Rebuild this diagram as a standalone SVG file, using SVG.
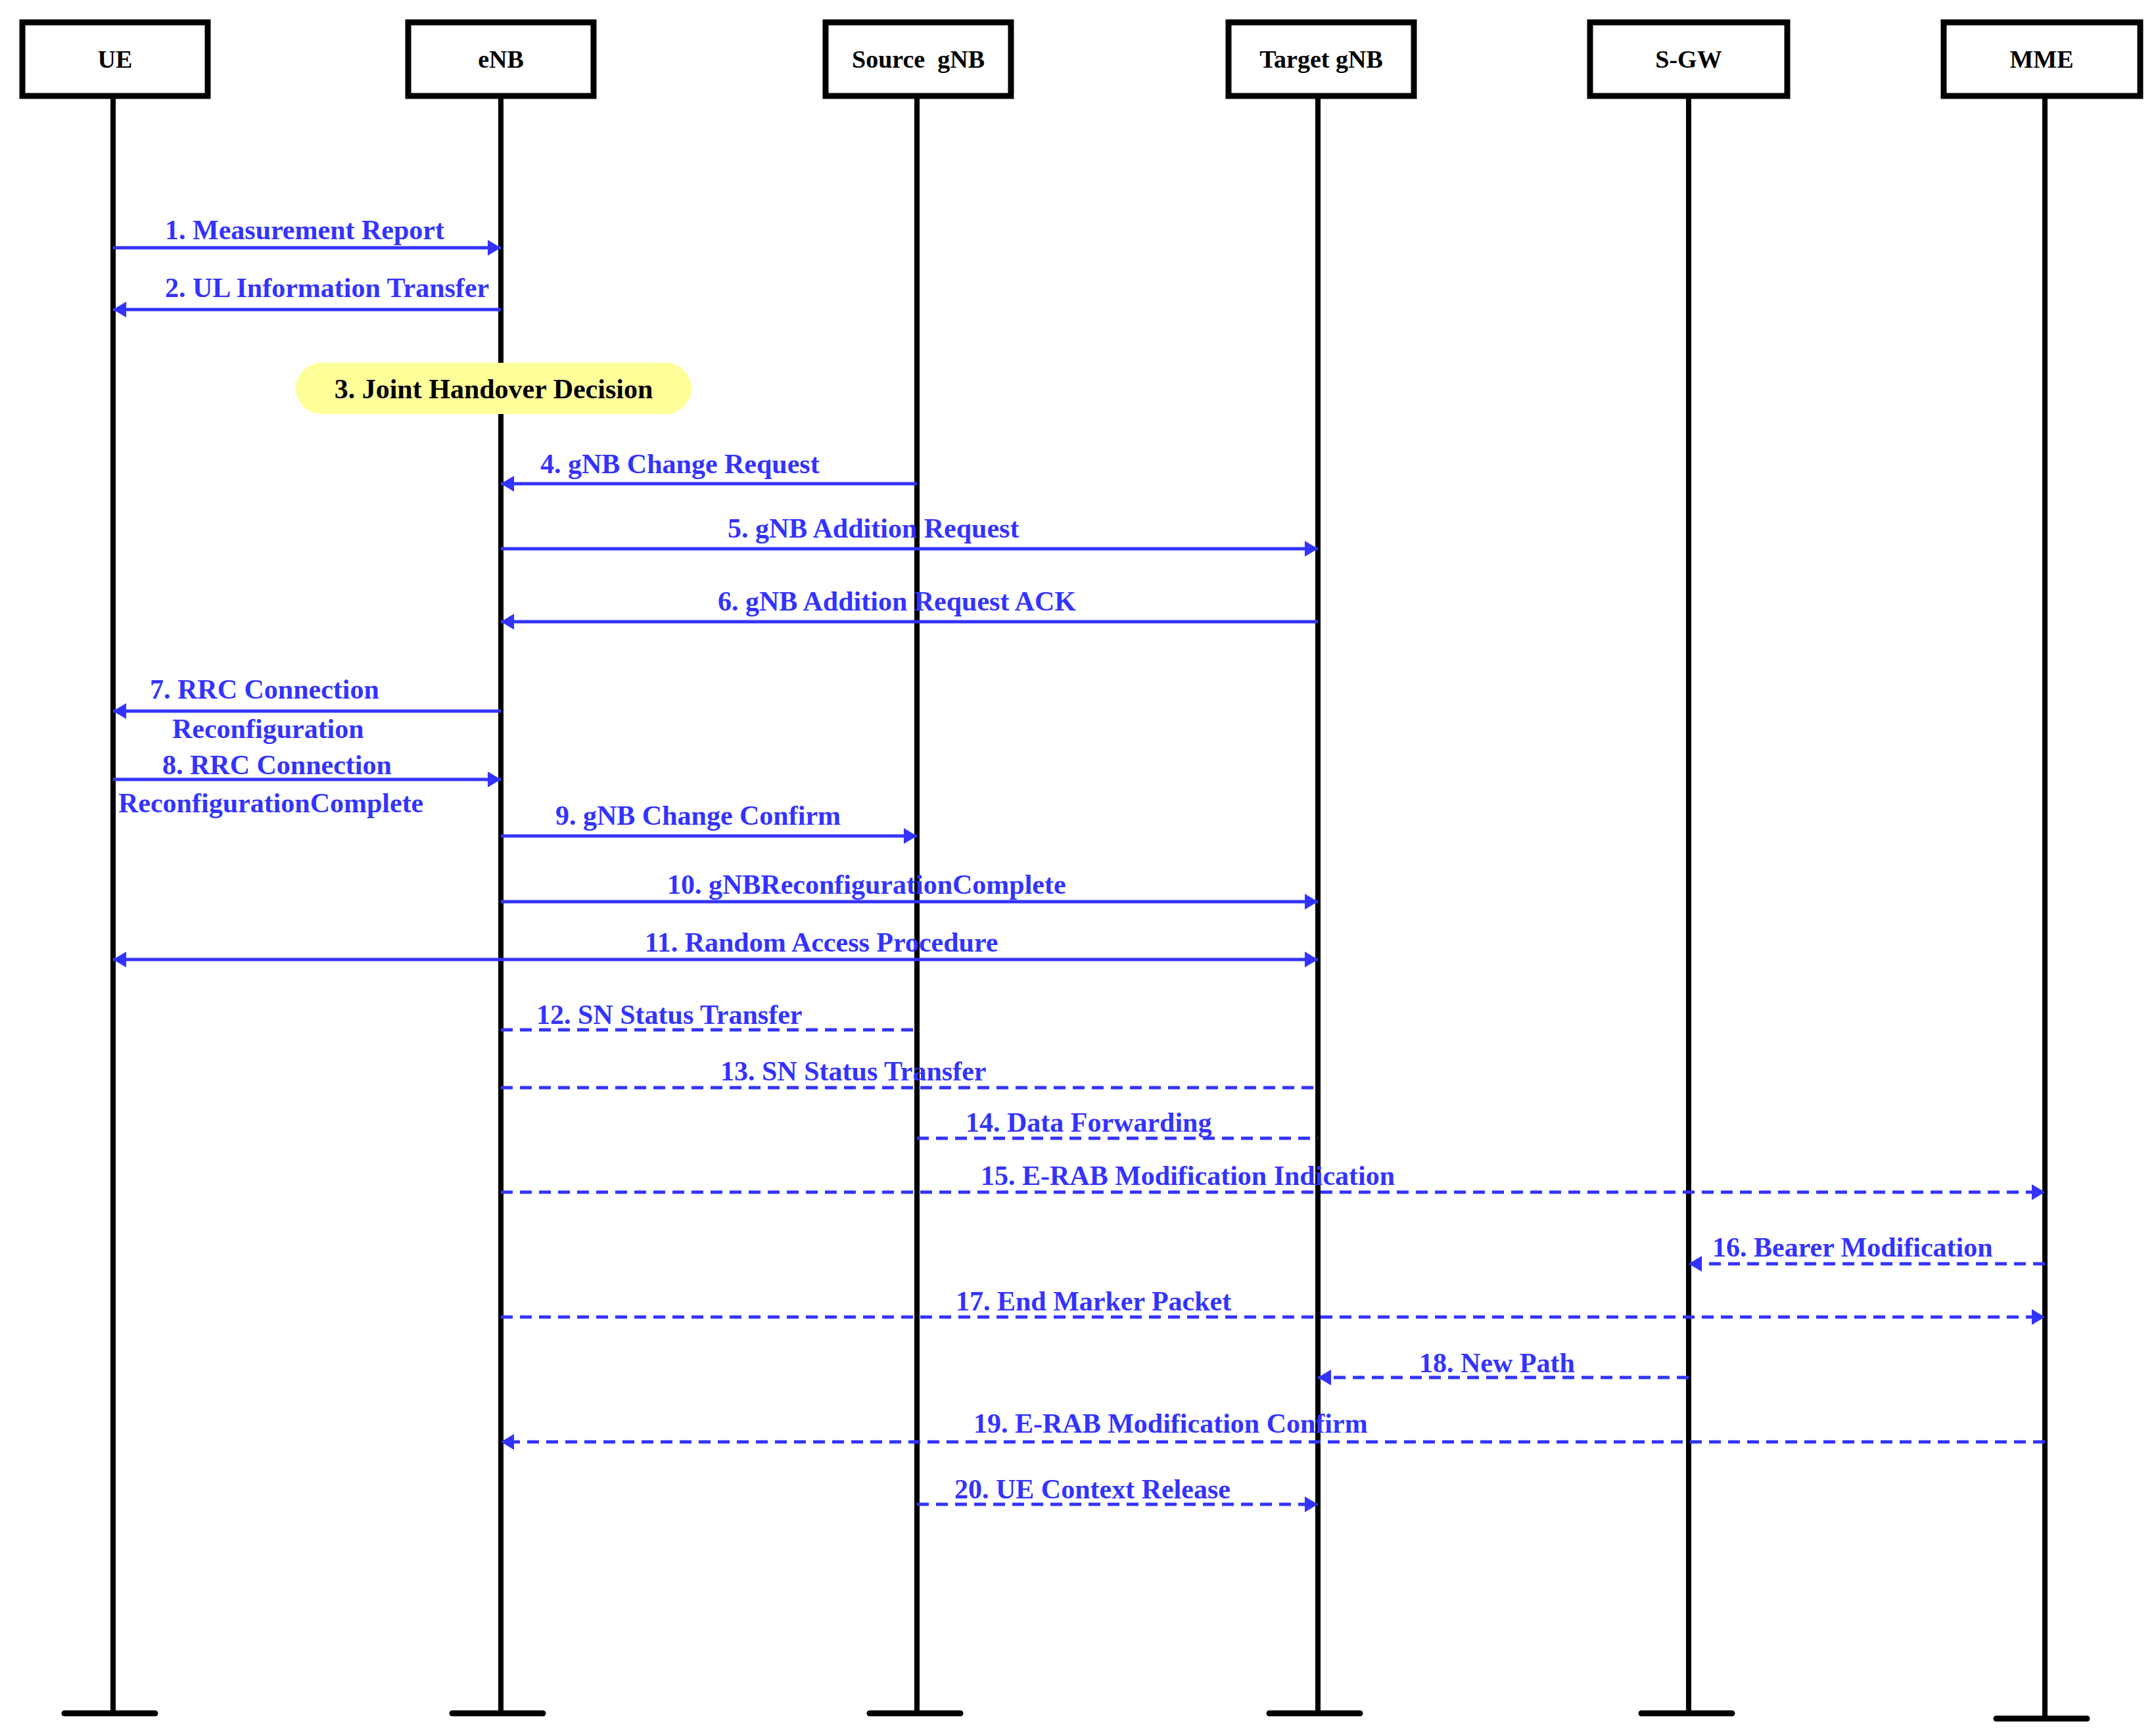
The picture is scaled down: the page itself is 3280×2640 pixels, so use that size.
<svg xmlns="http://www.w3.org/2000/svg" width="3280" height="2640" viewBox="0 0 3280 2640">
<style>
.box{fill:#fff;stroke:#000;stroke-width:9}
.life{stroke:#000;stroke-width:8;fill:none}
.bar{stroke:#000;stroke-width:9;stroke-linecap:round}
.nt{font-family:"Liberation Serif",serif;font-weight:bold;font-size:38px;fill:#000;text-anchor:middle}
.lt{font-family:"Liberation Serif",serif;font-weight:bold;font-size:42px;fill:#3333ff}
.m{stroke:#3333ff;stroke-width:5;fill:none}
.d{stroke-dasharray:18 11}
</style>
<defs>
<marker id="ah" markerUnits="userSpaceOnUse" viewBox="0 0 20 24" refX="20" refY="12" markerWidth="20" markerHeight="24" orient="auto-start-reverse"><path d="M0,0 L20,12 L0,24 z" fill="#3333ff"/></marker>
</defs>
<g id="UE"><rect class="box" x="34" y="34" width="282" height="112"/><text class="nt" x="175" y="103">UE</text><line class="life" x1="172" y1="146" x2="172" y2="2607"/><line class="bar" x1="98" y1="2607" x2="236" y2="2607"/></g>
<g id="eNB"><rect class="box" x="621" y="34" width="282" height="112"/><text class="nt" x="762" y="103">eNB</text><line class="life" x1="762" y1="146" x2="762" y2="2607"/><line class="bar" x1="688" y1="2607" x2="826" y2="2607"/></g>
<g id="SourcegNB"><rect class="box" x="1256" y="34" width="282" height="112"/><text class="nt" x="1397" y="103" xml:space="preserve">Source  gNB</text><line class="life" x1="1395" y1="146" x2="1395" y2="2607"/><line class="bar" x1="1323" y1="2607" x2="1461" y2="2607"/></g>
<g id="TargetgNB"><rect class="box" x="1869" y="34" width="282" height="112"/><text class="nt" x="2010" y="103">Target gNB</text><line class="life" x1="2005" y1="146" x2="2005" y2="2607"/><line class="bar" x1="1931" y1="2607" x2="2069" y2="2607"/></g>
<g id="SGW"><rect class="box" x="2419" y="34" width="300" height="112"/><text class="nt" x="2569" y="103">S-GW</text><line class="life" x1="2569" y1="146" x2="2569" y2="2607"/><line class="bar" x1="2497" y1="2607" x2="2635" y2="2607"/></g>
<g id="MME"><rect class="box" x="2957" y="34" width="299" height="112"/><text class="nt" x="3106" y="103">MME</text><line class="life" x1="3111" y1="146" x2="3111" y2="2615"/><line class="bar" x1="3037" y1="2615" x2="3175" y2="2615"/></g>
<g id="decision"><rect x="450" y="552" width="602" height="78" rx="39" fill="#ffff99"/><text x="751" y="606" font-family="Liberation Serif,serif" font-weight="bold" font-size="42" text-anchor="middle" fill="#000">3. Joint Handover Decision</text></g>
<g id="connectors">
<line class="m" x1="172" y1="377" x2="762" y2="377" marker-end="url(#ah)"/>
<line class="m" x1="762" y1="471" x2="172" y2="471" marker-end="url(#ah)"/>
<line class="m" x1="1395" y1="736" x2="762" y2="736" marker-end="url(#ah)"/>
<line class="m" x1="762" y1="835" x2="2005" y2="835" marker-end="url(#ah)"/>
<line class="m" x1="2005" y1="946" x2="762" y2="946" marker-end="url(#ah)"/>
<line class="m" x1="762" y1="1082" x2="172" y2="1082" marker-end="url(#ah)"/>
<line class="m" x1="172" y1="1186" x2="762" y2="1186" marker-end="url(#ah)"/>
<line class="m" x1="762" y1="1272" x2="1395" y2="1272" marker-end="url(#ah)"/>
<line class="m" x1="762" y1="1372" x2="2005" y2="1372" marker-end="url(#ah)"/>
<line class="m" x1="172" y1="1460" x2="2005" y2="1460" marker-start="url(#ah)" marker-end="url(#ah)"/>
<line class="m d" x1="762" y1="1567" x2="1395" y2="1567"/>
<line class="m d" x1="762" y1="1655" x2="2005" y2="1655"/>
<line class="m d" x1="1395" y1="1732" x2="2005" y2="1732"/>
<line class="m d" x1="762" y1="1814" x2="3111" y2="1814" marker-end="url(#ah)"/>
<line class="m d" x1="3111" y1="1923" x2="2569" y2="1923" marker-end="url(#ah)"/>
<line class="m d" x1="762" y1="2004" x2="3111" y2="2004" marker-end="url(#ah)"/>
<line class="m d" x1="2569" y1="2096" x2="2005" y2="2096" marker-end="url(#ah)"/>
<line class="m d" x1="3111" y1="2194" x2="762" y2="2194" marker-end="url(#ah)"/>
<line class="m d" x1="1395" y1="2289" x2="2005" y2="2289" marker-end="url(#ah)"/>
<text class="lt" x="251" y="364">1. Measurement Report</text>
<text class="lt" x="251" y="452">2. UL Information Transfer</text>
<text class="lt" x="822" y="720">4. gNB Change Request</text>
<text class="lt" x="1107" y="818">5. gNB Addition Request</text>
<text class="lt" x="1092" y="929">6. gNB Addition Request ACK</text>
<text class="lt" x="228" y="1063">7. RRC Connection</text>
<text class="lt" x="262" y="1123">Reconfiguration</text>
<text class="lt" x="247" y="1178">8. RRC Connection</text>
<text class="lt" x="180" y="1236">ReconfigurationComplete</text>
<text class="lt" x="845" y="1255">9. gNB Change Confirm</text>
<text class="lt" x="1015" y="1360">10. gNBReconfigurationComplete</text>
<text class="lt" x="981" y="1448">11. Random Access Procedure</text>
<text class="lt" x="816" y="1558">12. SN Status Transfer</text>
<text class="lt" x="1096" y="1644">13. SN Status Transfer</text>
<text class="lt" x="1469" y="1722">14. Data Forwarding</text>
<text class="lt" x="1492" y="1803">15. E-RAB Modification Indication</text>
<text class="lt" x="2605" y="1912">16. Bearer Modification</text>
<text class="lt" x="1454" y="1994">17. End Marker Packet</text>
<text class="lt" x="2159" y="2088">18. New Path</text>
<text class="lt" x="1481" y="2180">19. E-RAB Modification  Confirm</text>
<text class="lt" x="1452" y="2280">20. UE Context Release</text>
</g>
</svg>
